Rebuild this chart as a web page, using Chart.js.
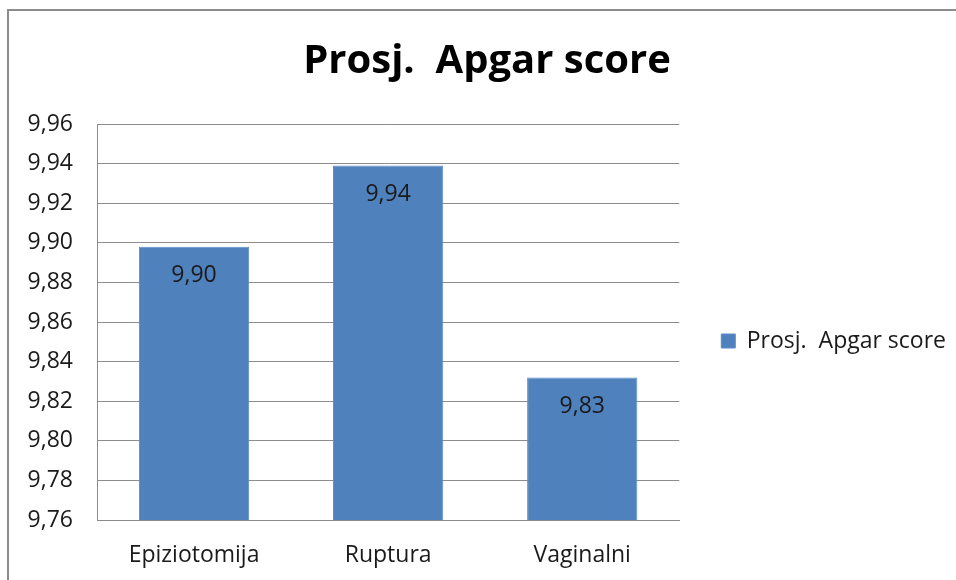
<!DOCTYPE html>
<html>
<head>
<meta charset="utf-8">
<script src="https://cdn.jsdelivr.net/npm/chart.js@4/dist/chart.umd.min.js"></script>
<style>
  html, body { margin: 0; padding: 0; background: #fff; overflow: hidden; }
  #frame {
    position: absolute; left: 7px; top: 9px; width: 1000px; height: 600px;
    border-left: 2px solid #8c8c8c; border-top: 2px solid #8c8c8c;
  }
  #wrap { position: absolute; left: 0; top: 0; width: 956px; height: 580px; }
</style>
</head>
<body>
<div id="frame"></div>
<div id="wrap"><canvas id="apgar-chart"></canvas></div>
<script>
const categories = ["Epiziotomija", "Ruptura", "Vaginalni"];
const apgarValues = [9.898, 9.939, 9.832];
const valueLabels = ["9,90", "9,94", "9,83"];
const seriesName = "Prosj.  Apgar score";
const titleText = "Prosj.  Apgar score";

const FONT = "'Open Sans', sans-serif";
const TEXT = "#1a1a1a";

// draws the value text inside each bar, near its top
const barValueLabels = {
  id: "barValueLabels",
  afterDatasetsDraw(chart) {
    const ctx = chart.ctx;
    const meta = chart.getDatasetMeta(0);
    ctx.save();
    ctx.font = "23px " + FONT;
    ctx.fillStyle = TEXT;
    ctx.textAlign = "center";
    ctx.textBaseline = "middle";
    meta.data.forEach((bar, i) => {
      ctx.fillText(valueLabels[i], bar.x, bar.y + 29);
    });
    ctx.restore();
  }
};

new Chart(document.getElementById("apgar-chart"), {
  type: "bar",
  plugins: [barValueLabels],
  data: {
    labels: categories,
    datasets: [{
      label: seriesName,
      data: apgarValues,
      backgroundColor: "#4f81bd",
      borderColor: "#5b8cc6",
      borderWidth: 1,
      categoryPercentage: 1,
      barPercentage: 0.568
    }]
  },
  options: {
    responsive: true,
    maintainAspectRatio: false,
    animation: false,
    layout: { padding: { left: 18, right: 0, top: 0, bottom: 0 } },
    scales: {
      x: {
        grid: { display: false, drawTicks: false },
        border: { display: true, color: "#8c8c8c", width: 1 },
        ticks: { color: TEXT, font: { family: FONT, size: 23 }, padding: 22 },
        afterFit(scale) { scale.height = 60; }
      },
      y: {
        min: 9.76,
        max: 9.96,
        grid: { color: "#8c8c8c", lineWidth: 1, drawTicks: false },
        border: { display: true, color: "#8c8c8c", width: 1 },
        ticks: {
          stepSize: 0.02,
          color: TEXT,
          padding: 24,
          font: { family: FONT, size: 23 },
          callback: (v) => v.toFixed(2).replace(".", ",")
        },
        afterFit(scale) { scale.width = 79; }
      }
    },
    plugins: {
      title: {
        display: true,
        text: titleText,
        color: "#000",
        font: { family: FONT, size: 40, weight: "bold" },
        padding: { top: 38, bottom: 38 }
      },
      legend: {
        position: "right",
        maxWidth: 278,
        title: {
          display: true,
          text: " ",
          font: { size: 10 },
          padding: { top: 90, bottom: 0 }
        },
        labels: {
          boxWidth: 14,
          boxHeight: 14,
          color: TEXT,
          font: { family: FONT, size: 23 },
          padding: 42
        }
      },
      tooltip: { enabled: false }
    }
  }
});
</script>
</body>
</html>
